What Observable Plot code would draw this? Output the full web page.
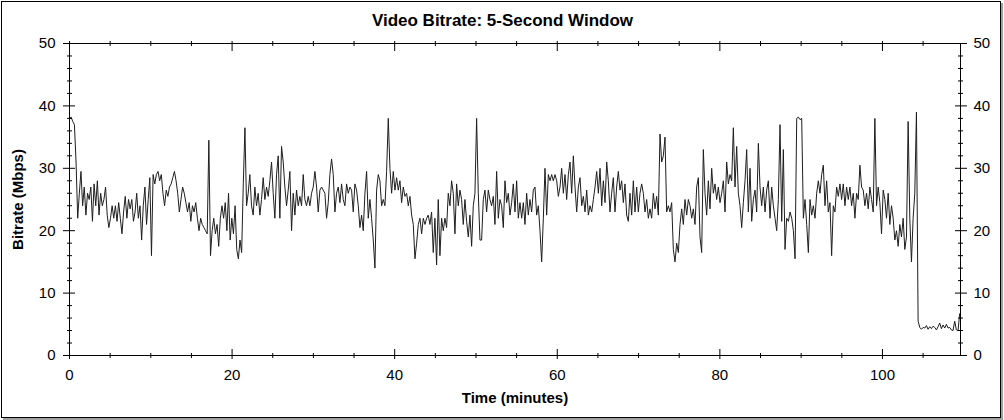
<!DOCTYPE html>
<html><head><meta charset="utf-8">
<script src="https://cdn.jsdelivr.net/npm/d3@7"></script>
<script src="https://cdn.jsdelivr.net/npm/@observablehq/plot@0.6"></script>
<style>
body{margin:0;background:#fff;}
#wrap{position:relative;width:1004px;height:420px;background:#fff;}
#border{position:absolute;left:1px;top:1px;width:998px;height:415px;border:1px solid #000;box-shadow:2px 2px 0 #a0a0a0;pointer-events:none;}
</style></head><body>
<div id="wrap"><div id="chart"></div><div id="border"></div></div>
<script>
// Bitrate readings (Mbps) in five consecutive time spans
const segA = [38, 38.2, 37.5, 37, 31, 22, 26, 29.5, 24, 27,
  22.5, 26, 25, 27, 21.5, 27.5, 24, 28, 22.5, 26,
  24, 25, 27, 22.5, 20.5, 22, 24, 22, 24, 21.5,
  24.5, 22, 19.5, 23, 25.5, 22, 25, 23.5, 25, 21.5,
  23, 26, 22, 24, 18.5, 24, 27, 21, 25, 28.5,
  16, 29, 27.5, 29, 29.5, 28, 29, 26, 24, 26.5,
  25.5, 27, 27.5, 28.5, 29.5, 28, 26, 23, 25, 27,
  26, 24.5, 23, 24.5, 21.5, 24, 23, 24.5, 22, 20,
  22, 21, 20.5, 20, 19.5, 34.5, 16, 20, 22, 19.5,
  21, 17.5, 22, 24, 22, 24.5, 20, 26, 18.5, 22,
  19.5, 24, 17, 15.5, 18.5, 16.5, 27.5, 36.5, 24];
const segB = [26, 29, 24, 22.5, 27, 24, 26, 22.5, 25, 28.5,
  25, 27, 25.5, 28, 31, 26, 22, 29, 32, 22,
  33.5, 31, 27, 24, 26.5, 29.5, 20, 26, 22.5, 26.5,
  24, 25.5, 24, 29, 25, 24, 25.5, 24, 26, 27,
  29.5, 27, 23, 26.5, 27, 26.5, 26, 22, 24.5, 29,
  31.5, 29, 23, 26, 27, 24.5, 27.5, 25, 24, 27.5,
  26, 27, 26.5, 23, 27.5, 26.5, 24, 20.5, 22.5, 20,
  26, 29.5, 22, 25, 22, 18.5, 14, 26.5, 29, 28,
  24, 25, 24, 29.5, 38, 30, 26, 29.5, 26.5, 28.5,
  26.5, 28, 24.5, 27, 25.5, 26, 24, 25.5, 22.5, 21,
  15.5, 18, 21, 22, 19.5, 22, 21, 22];
const segC = [22.5, 21, 23, 16.5, 22, 14.5, 25, 16, 22, 20,
  22, 20.5, 26, 24, 28, 26, 19.5, 27.5, 24, 26.5,
  25, 21, 25, 21.5, 19, 22.5, 17.5, 24, 26, 38,
  26, 18.5, 18.5, 25, 26.5, 23, 26.5, 25, 24, 25.5,
  21, 29.5, 22, 25, 24, 20.5, 28, 24.5, 26, 22.5,
  24.5, 27.5, 23, 28, 22, 24.5, 22, 24.5, 21, 26,
  22.5, 25, 23, 26.5, 27, 22.5, 24, 20, 15, 22,
  30, 22.5, 29, 28, 29, 28, 29, 28, 25.5, 27,
  30, 26, 29, 25, 29, 31, 26, 32, 27, 23,
  27, 28.5, 24, 25.5, 23, 26.5, 22.5, 24, 23, 25,
  27, 29.5, 26, 30, 24, 28, 24.5, 31];
const segD = [28, 23, 26, 28.5, 23, 27, 29.5, 26.5, 28, 24.5,
  27.5, 22.5, 21.5, 26, 22.5, 28, 23, 27, 23, 26,
  27.5, 26, 23, 25, 22, 23.5, 22, 26, 23.5, 25.5,
  22.5, 35.5, 31, 32, 35, 23, 24, 23, 24.5, 17,
  15, 18, 16.5, 21, 23.5, 21, 25, 22.5, 25, 24,
  22, 23.5, 21, 27, 28.5, 19, 16.5, 33, 26, 22.5,
  28, 23.5, 30, 26, 27.5, 25, 27, 24.5, 26, 28,
  23, 31, 27.5, 29, 28, 36.5, 27, 33.5, 26, 24,
  20.5, 24.5, 28, 33, 23, 30, 21.5, 25, 26.5, 23,
  34, 27, 24, 27, 23, 26.5, 28, 22, 27, 24,
  22, 20, 25, 37, 21.5, 33, 17, 22];
const segE = [21.5, 23, 22, 20, 15.5, 38, 38.2, 37.8, 38, 22,
  25, 21, 16.5, 25, 22.5, 24, 22, 26, 28, 26,
  29, 30.5, 24, 28, 23, 24.5, 16, 24, 23, 27,
  25.5, 27.5, 25, 27.5, 24, 27, 25, 27, 24, 26,
  22, 26, 25, 30.5, 27, 26.5, 24, 26, 23.5, 27,
  25, 23, 38, 24, 27, 24.5, 19.5, 26.5, 25, 22,
  26, 21, 24, 22, 18.5, 20, 17.5, 21, 19, 22,
  17, 19, 37.5, 22, 15, 22, 26, 39, 5.5, 4.5,
  4.2, 4.5, 4.4, 4.8, 4.2, 4.6, 4.3, 4.7, 4.5, 4.1,
  4.6, 5.2, 4.3, 4.9, 4.4, 5, 4.4, 4.5, 4.1, 4.0,
  5.5, 4.1, 4.0, 6.7];
// time span (minutes) covered by each reading block
const segStart = [0, 21.98, 44.13, 66.28, 88.43];
const segEnd = [21.78, 43.93, 66.08, 88.22, 109.5];

const xMajor = [0, 20, 40, 60, 80, 100];
const xMinor = [5, 10, 15, 25, 30, 35, 45, 50, 55, 65, 70, 75, 85, 90, 95, 105];
const yMajor = [0, 10, 20, 30, 40, 50];
const yMinor = [2, 4, 6, 8, 12, 14, 16, 18, 22, 24, 26, 28, 32, 34, 36, 38, 42, 44, 46, 48];

const segs = [segA, segB, segC, segD, segE];
const rows = [];
segs.forEach((vals, k) => {
  const n = vals.length;
  vals.forEach((v, i) => rows.push({time: segStart[k] + i * (segEnd[k] - segStart[k]) / (n - 1), rate: v}));
});

const blank = () => "";
const chart = Plot.plot({
  width: 1004, height: 420,
  marginTop: 43, marginRight: 44, marginBottom: 65, marginLeft: 69,
  style: {fontFamily: "'Liberation Sans', Arial, sans-serif", fontSize: "15px", color: "#000", background: "transparent"},
  x: {domain: [0, 109.6]},
  y: {domain: [0, 50]},
  marks: [
    Plot.line(rows, {x: "time", y: "rate", stroke: "#1e1e1e", strokeWidth: 1}),
    Plot.frame({stroke: "#000"}),
    // bottom ticks
    Plot.axisX(xMajor, {anchor: "bottom", tickSize: 10, dy: -6, tickFormat: blank, label: null}),
    Plot.axisX(xMinor, {anchor: "bottom", tickSize: 5, dy: -2, tickFormat: blank, label: null}),
    // top ticks
    Plot.axisX(xMajor, {anchor: "top", tickSize: 10, dy: 7, tickFormat: blank, label: null}),
    Plot.axisX(xMinor, {anchor: "top", tickSize: 5, dy: 2, tickFormat: blank, label: null}),
    // left ticks
    Plot.axisY(yMajor, {anchor: "left", tickSize: 12, dx: 6, tickFormat: blank, label: null}),
    Plot.axisY(yMinor, {anchor: "left", tickSize: 5, dx: 3, tickFormat: blank, label: null}),
    // right ticks
    Plot.axisY(yMajor, {anchor: "right", tickSize: 12, dx: -6, tickFormat: blank, label: null}),
    Plot.axisY(yMinor, {anchor: "right", tickSize: 5, dx: -3, tickFormat: blank, label: null}),
    // labels
    Plot.axisX(xMajor, {anchor: "bottom", tickSize: 0, tickPadding: 14, label: null}),
    Plot.axisY(yMajor, {anchor: "left", tickSize: 0, tickPadding: 14, label: null}),
    Plot.axisY(yMajor, {anchor: "right", tickSize: 0, tickPadding: 13, label: null}),
    Plot.text(["Video Bitrate: 5-Second Window"], {frameAnchor: "top", lineAnchor: "middle", textAnchor: "middle", dx: -12.5, dy: -23, fontWeight: "bold", fontSize: 17}),
    Plot.text(["Time (minutes)"], {frameAnchor: "bottom", lineAnchor: "middle", textAnchor: "middle", dy: 43, fontWeight: "bold", fontSize: 15}),
    Plot.text(["Bitrate (Mbps)"], {frameAnchor: "left", lineAnchor: "middle", textAnchor: "middle", dx: -51, rotate: -90, fontWeight: "bold", fontSize: 15})
  ]
});
document.getElementById("chart").append(chart);
</script>
</body></html>
